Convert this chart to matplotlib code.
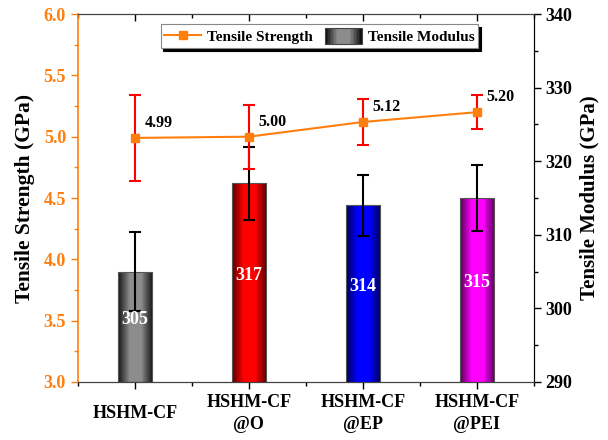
import matplotlib
matplotlib.use("Agg")
import matplotlib.pyplot as plt
import numpy as np
from matplotlib.colors import LinearSegmentedColormap
from matplotlib.legend_handler import HandlerBase
from matplotlib.patches import Rectangle
from matplotlib.lines import Line2D
from matplotlib.ticker import MultipleLocator

plt.rcParams["font.family"] = "Liberation Serif"
plt.rcParams["font.weight"] = "bold"

# data
samples = ["HSHM-CF", "HSHM-CF\n@O", "HSHM-CF\n@EP", "HSHM-CF\n@PEI"]
strength = [4.99, 5.00, 5.12, 5.20]
strength_err = [0.35, 0.26, 0.19, 0.14]
modulus = [305, 317, 314, 315]
modulus_err = [5.4, 5.0, 4.1, 4.5]
bar_colors = [("#151515", "#8c8c8c"), ("#5a0000", "#ff0000"),
              ("#00005a", "#0000ff"), ("#5a005a", "#ff00ff")]

ORANGE = "#ff7f0e"
x = np.arange(len(samples))


def grad_cmap(dark, bright):
    return LinearSegmentedColormap.from_list("g", [dark, bright, bright, dark])


class GradientHandler(HandlerBase):
    """draws the legend box for the bars as a gray gradient"""

    def create_artists(self, legend, orig_handle, xdescent, ydescent,
                       width, height, fontsize, trans):
        cmap = grad_cmap("#111111", "#8c8c8c")
        n = 24
        arts = []
        for i in range(n):
            r = Rectangle((-xdescent + i * width / n, -ydescent), width / n, height,
                          facecolor=cmap(i / (n - 1)), edgecolor="none", transform=trans)
            arts.append(r)
        arts.append(Rectangle((-xdescent, -ydescent), width, height, facecolor="none",
                              edgecolor="#444444", lw=0.8, transform=trans))
        return arts


fig = plt.figure(figsize=(6.08, 4.40), dpi=100)
ax = fig.add_axes([0.128, 0.132, 0.75, 0.836])
ax2 = ax.twinx()

# bars with gradient fill on the modulus axis
bars = ax2.bar(x, modulus, width=0.3, bottom=0, color="none", edgecolor="#555555", lw=0.8, zorder=2)
grad = np.linspace(0, 1, 64).reshape(1, -1)
for b, (dark, bright) in zip(bars, bar_colors):
    x0, w = b.get_x(), b.get_width()
    im = ax2.imshow(grad, cmap=grad_cmap(dark, bright), aspect="auto",
                    extent=[x0, x0 + w, 290, b.get_height()], zorder=1)
    im.set_clip_path(b)
ax2.errorbar(x, modulus, yerr=modulus_err, fmt="none", ecolor="black",
             elinewidth=1.5, capsize=4, capthick=1.5, zorder=3)
for xi, v in zip(x, modulus):
    ax2.text(xi, (290 + v) / 2 + 1, str(v), color="white", fontsize=13,
             ha="center", va="center", fontweight="bold", zorder=4)

# strength line on the left axis, drawn above the bars
ax.set_zorder(ax2.get_zorder() + 1)
ax.patch.set_visible(False)
ax.errorbar(x, strength, yerr=strength_err, fmt="none", ecolor="red",
            elinewidth=1.5, capsize=4, capthick=1.5, zorder=2)
ax.plot(x, strength, color=ORANGE, marker="s", markersize=6, lw=1.5, zorder=3)
for xi, v in zip(x, strength):
    ax.annotate(f"{v:.2f}", (xi, v), xytext=(7, 5), textcoords="offset points",
                fontsize=11.5, fontweight="bold", ha="left", va="bottom")

ax.set_xlim(-0.5, 3.5)
ax.set_ylim(3.0, 6.0)
ax2.set_ylim(290, 340)

ax.set_xticks(x)
ax.set_xticklabels(samples, fontsize=13, fontweight="bold", va="center", linespacing=1.4)
ax.xaxis.set_minor_locator(MultipleLocator(0.5))
ax.yaxis.set_major_locator(MultipleLocator(0.5))
ax.yaxis.set_minor_locator(MultipleLocator(0.25))
ax2.yaxis.set_major_locator(MultipleLocator(10))
ax2.yaxis.set_minor_locator(MultipleLocator(5))

ax.tick_params(axis="x", which="major", direction="out", length=5, width=1, top=True, pad=18)
ax.tick_params(axis="x", which="minor", direction="out", length=3, width=1, top=True)
ax.tick_params(axis="y", which="major", direction="out", length=5, width=1,
               colors=ORANGE, labelsize=13)
ax.tick_params(axis="y", which="minor", direction="out", length=3, width=1, colors=ORANGE)
ax2.tick_params(axis="y", which="major", direction="out", length=5, width=1, labelsize=13)
ax2.tick_params(axis="y", which="minor", direction="out", length=3, width=1)
for lab in ax.get_yticklabels() + ax2.get_yticklabels():
    lab.set_fontweight("bold")

# top ticks point inward
for t in ax.xaxis.get_major_ticks() + ax.xaxis.get_minor_ticks():
    t.tick2line.set_marker(matplotlib.lines.TICKDOWN)

ax.spines["left"].set_color(ORANGE)
ax.spines["left"].set_linewidth(1.2)
ax2.spines["left"].set_visible(False)
for s in ["top", "bottom"]:
    ax.spines[s].set_color("#444444")
ax2.spines["right"].set_color("#222222")

ax.set_ylabel("Tensile Strength (GPa)", fontsize=15.5, fontweight="bold", labelpad=6)
ax2.set_ylabel("Tensile Modulus (GPa)", fontsize=15, fontweight="bold", labelpad=5)

line_handle = Line2D([], [], color=ORANGE, marker="s", markersize=6, lw=1.5)
bar_handle = Rectangle((0, 0), 1, 1)
leg = ax.legend([line_handle, bar_handle], ["Tensile Strength", "Tensile Modulus"],
                handler_map={Rectangle: GradientHandler()}, ncol=2,
                loc="center", bbox_to_anchor=(0.53, 0.94), fontsize=11,
                frameon=True, fancybox=False, shadow={"color": "black", "alpha": 1},
                edgecolor="#888888", handlelength=2.4, handleheight=1.3,
                columnspacing=0.8, handletextpad=0.4, borderpad=0.25)
leg.get_frame().set_linewidth(0.8)
for t in leg.get_texts():
    t.set_fontweight("bold")

fig.savefig("out.png", dpi=100)
